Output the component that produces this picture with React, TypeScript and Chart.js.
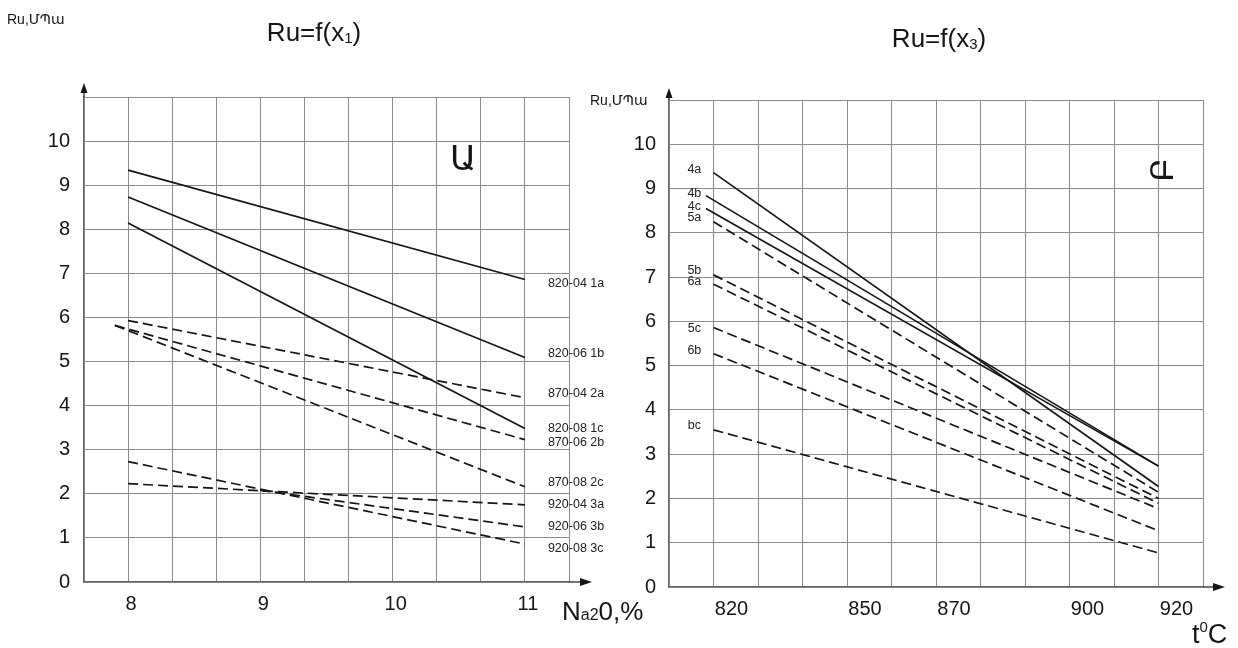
import React, { useEffect, useRef } from 'react';
import { Chart, registerables } from 'chart.js';

Chart.register(...registerables);

// ---------- Left panel: Ru = f(x1), Na2O % ----------
const leftNames = ['1a', '1b', '1c', '2a', '2b', '2c', '3a', '3b', '3c'];
const leftStartX = [8, 8, 8, 8, 7.9, 7.9, 8, 9.0, 8];
const leftStartY = [9.34, 8.73, 8.14, 5.93, 5.82, 5.82, 2.23, 2.08, 2.73];
const leftEndX = 11;
const leftEndY = [6.86, 5.09, 3.48, 4.18, 3.23, 2.16, 1.75, 1.25, 0.86];
const leftXTickLabels = [8, 9, 10, 11];
const leftTags = ['820-04 1a', '820-06 1b', '870-04 2a', '820-08 1c', '870-06 2b', '870-08 2c', '920-04 3a', '920-06 3b', '920-08 3c'];
const leftTagAt = [6.77, 5.18, 4.27, 3.48, 3.16, 2.25, 1.75, 1.25, 0.75];

// ---------- Right panel: Ru = f(x3), t °C ----------
const rightNames = ['4a', '4b', '4c', '5a', '5b', '6a', '5c', '6b', 'bc'];
const rightStartX = [820, 818.3, 818.3, 820, 820, 820, 820, 820, 820];
const rightStartY = [9.36, 8.84, 8.55, 8.25, 7.05, 6.84, 5.86, 5.27, 3.55];
const rightEndX = 920;
const rightEndY = [2.27, 2.73, 2.73, 2.14, 2.0, 1.89, 1.77, 1.27, 0.77];
const rightXTickLabels = [820, 850, 870, 900, 920];
const rightTags = ['4a', '4b', '4c', '5a', '5b', '6a', '5c', '6b', 'bc'];
const rightTagAt = [9.43, 8.89, 8.59, 8.34, 7.14, 6.91, 5.84, 5.34, 3.64];

const yMax = 11;
const yLabelMax = 10;

const FONT = '"Liberation Sans", Arial, "DejaVu Sans", sans-serif';
const ARM = '"DejaVu Sans", "Noto Sans", sans-serif';
const INK = '#151515';
const GRID = '#8c8c8c';

type Part = { t: string; size: number; dy?: number; family?: string };

function drawParts(ctx: CanvasRenderingContext2D, parts: Part[], x: number, y: number, align: 'left' | 'center') {
  ctx.save();
  ctx.textBaseline = 'alphabetic';
  ctx.textAlign = 'left';
  let total = 0;
  const widths = parts.map((p) => {
    ctx.font = `${p.size}px ${p.family || FONT}`;
    const w = ctx.measureText(p.t).width;
    total += w;
    return w;
  });
  let cx = align === 'center' ? x - total / 2 : x;
  parts.forEach((p, i) => {
    ctx.font = `${p.size}px ${p.family || FONT}`;
    ctx.fillText(p.t, cx, y + (p.dy || 0));
    cx += widths[i];
  });
  ctx.restore();
}

function arrowUp(ctx: CanvasRenderingContext2D, x: number, y0: number, tip: number) {
  ctx.beginPath();
  ctx.moveTo(x, y0);
  ctx.lineTo(x, tip + 4);
  ctx.stroke();
  ctx.beginPath();
  ctx.moveTo(x, tip);
  ctx.lineTo(x - 3.5, tip + 10);
  ctx.lineTo(x + 3.5, tip + 10);
  ctx.closePath();
  ctx.fill();
}

function arrowRight(ctx: CanvasRenderingContext2D, x0: number, y: number, tip: number) {
  ctx.beginPath();
  ctx.moveTo(x0, y);
  ctx.lineTo(tip - 4, y);
  ctx.stroke();
  ctx.beginPath();
  ctx.moveTo(tip, y);
  ctx.lineTo(tip - 12, y - 4);
  ctx.lineTo(tip - 12, y + 4);
  ctx.closePath();
  ctx.fill();
}

function buildDatasets(names: string[], sx: number[], sy: number[], ex: number, ey: number[], solidGroups: string[]) {
  return names.map((n, i) => ({
    label: n,
    data: [
      { x: sx[i], y: sy[i] },
      { x: ex, y: ey[i] },
    ],
    borderColor: INK,
    borderWidth: 1.7,
    borderDash: solidGroups.includes(n[0]) ? [] : [10, 5],
    pointRadius: 0,
    fill: false,
    tension: 0,
  }));
}

function makeOptions(cfg: {
  xMin: number; xMax: number; gridX: number[]; labelX: number[]; labelOffset: number;
  yWidth: number; xHeight: number; padRight: number; padTop: number;
  yPad: number; xPad: number;
}) {
  return {
    responsive: false,
    animation: false as const,
    events: [],
    layout: { padding: { left: 0, right: cfg.padRight, top: cfg.padTop, bottom: 0 } },
    plugins: { legend: { display: false }, tooltip: { enabled: false }, title: { display: false } },
    scales: {
      x: {
        type: 'linear' as const,
        min: cfg.xMin,
        max: cfg.xMax,
        afterBuildTicks: (axis: any) => {
          axis.ticks = cfg.gridX.map((v) => ({ value: v }));
        },
        afterFit: (axis: any) => {
          axis.height = cfg.xHeight;
        },
        grid: { color: GRID, lineWidth: 1, drawTicks: false },
        border: { display: true, color: '#666', width: 1.2 },
        ticks: {
          padding: cfg.xPad,
          labelOffset: cfg.labelOffset,
          autoSkip: false,
          maxRotation: 0,
          color: INK,
          font: { family: FONT, size: 20 },
          callback: (v: any) => {
            const hit = cfg.labelX.find((l) => Math.abs(l - v) < 1e-6);
            return hit === undefined ? '' : String(hit);
          },
        },
      },
      y: {
        type: 'linear' as const,
        min: 0,
        max: yMax,
        afterFit: (axis: any) => {
          axis.width = cfg.yWidth;
        },
        grid: { color: GRID, lineWidth: 1, drawTicks: false },
        border: { display: true, color: '#666', width: 1.2 },
        ticks: {
          stepSize: 1,
          padding: cfg.yPad,
          color: INK,
          font: { family: FONT, size: 20 },
          callback: (v: any) => (v <= yLabelMax ? String(v) : ''),
        },
      },
    },
  };
}

const leftDecor = {
  id: 'leftDecor',
  afterDraw(chart: any) {
    const ctx: CanvasRenderingContext2D = chart.ctx;
    const { left, right, top, bottom } = chart.chartArea;
    const xs = chart.scales.x;
    const ys = chart.scales.y;
    ctx.save();
    ctx.strokeStyle = INK;
    ctx.fillStyle = INK;
    ctx.lineWidth = 1.2;
    arrowUp(ctx, left, top, top - 14);
    arrowRight(ctx, right, bottom, right + 23);

    drawParts(ctx, [
      { t: 'Ru=f(x', size: 26 },
      { t: '1', size: 15, dy: 2 },
      { t: ')', size: 26 },
    ], 314, 41, 'center');

    drawParts(ctx, [{ t: 'Ru,ՄՊա', size: 14 }], 7, 24, 'left');

    ctx.fillStyle = '#222';
    ctx.font = `12.5px ${FONT}`;
    ctx.textAlign = 'left';
    ctx.textBaseline = 'middle';
    const tx = xs.getPixelForValue(leftEndX) + 23;
    leftTags.forEach((t, i) => {
      ctx.fillText(t, tx, ys.getPixelForValue(leftTagAt[i]));
    });

    ctx.fillStyle = INK;
    drawParts(ctx, [{ t: 'Ա', size: 34, family: ARM }], 450, 170, 'left');

    drawParts(ctx, [
      { t: 'N', size: 26 },
      { t: 'a2', size: 16 },
      { t: '0,%', size: 26 },
    ], 562, 620, 'left');
    ctx.restore();
  },
};

const rightDecor = {
  id: 'rightDecor',
  afterDraw(chart: any) {
    const ctx: CanvasRenderingContext2D = chart.ctx;
    const { left, right, top, bottom } = chart.chartArea;
    const xs = chart.scales.x;
    const ys = chart.scales.y;
    const ox = 580;
    ctx.save();
    ctx.strokeStyle = INK;
    ctx.fillStyle = INK;
    ctx.lineWidth = 1.2;
    arrowUp(ctx, left, top, top - 12);
    arrowRight(ctx, right, bottom, right + 22);

    drawParts(ctx, [
      { t: 'Ru=f(x', size: 26 },
      { t: '3', size: 15, dy: 2 },
      { t: ')', size: 26 },
    ], 939 - ox, 47, 'center');

    drawParts(ctx, [{ t: 'Ru,ՄՊա', size: 14 }], 590 - ox, 105, 'left');

    ctx.fillStyle = '#222';
    ctx.font = `12.5px ${FONT}`;
    ctx.textAlign = 'center';
    ctx.textBaseline = 'middle';
    const tx = xs.getPixelForValue(815.7);
    rightTags.forEach((t, i) => {
      ctx.fillText(t, tx, ys.getPixelForValue(rightTagAt[i]));
    });

    ctx.fillStyle = INK;
    ctx.save();
    ctx.translate(1165 - ox, 170);
    ctx.rotate(-Math.PI / 2);
    ctx.font = `32px ${ARM}`;
    ctx.textAlign = 'center';
    ctx.textBaseline = 'middle';
    ctx.fillText('Բ', 0, 0);
    ctx.restore();

    drawParts(ctx, [
      { t: 't', size: 27 },
      { t: '0', size: 15, dy: -11 },
      { t: 'C', size: 27 },
    ], 1192 - ox, 643, 'left');
    ctx.restore();
  },
};

export default function App() {
  const leftRef = useRef<HTMLCanvasElement | null>(null);
  const rightRef = useRef<HTMLCanvasElement | null>(null);

  useEffect(() => {
    const leftGrid = Array.from({ length: 12 }, (_, i) => 23 / 3 + i / 3);
    const rightGrid = Array.from({ length: 13 }, (_, i) => 810 + i * 10);

    const lc = new Chart(leftRef.current as HTMLCanvasElement, {
      type: 'line',
      data: { datasets: buildDatasets(leftNames, leftStartX, leftStartY, leftEndX, leftEndY, ['1']) as any },
      options: makeOptions({
        xMin: 23 / 3, xMax: 34 / 3, gridX: leftGrid, labelX: leftXTickLabels, labelOffset: 3,
        yWidth: 84, xHeight: 66, padRight: 660 - 569, padTop: 97, yPad: 14, xPad: 10,
      }) as any,
      plugins: [leftDecor],
    });

    const rc = new Chart(rightRef.current as HTMLCanvasElement, {
      type: 'line',
      data: { datasets: buildDatasets(rightNames, rightStartX, rightStartY, rightEndX, rightEndY, ['4']) as any },
      options: makeOptions({
        xMin: 810, xMax: 930, gridX: rightGrid, labelX: rightXTickLabels, labelOffset: 18,
        yWidth: 89, xHeight: 61, padRight: 658 - 623, padTop: 100, yPad: 13, xPad: 10,
      }) as any,
      plugins: [rightDecor],
    });

    return () => {
      lc.destroy();
      rc.destroy();
    };
  }, []);

  return (
    <div style={{ position: 'absolute', left: 0, top: 0, width: 1238, height: 648, background: '#fff', overflow: 'hidden' }}>
      <canvas ref={leftRef} width={660} height={648} style={{ position: 'absolute', left: 0, top: 0 }} />
      <canvas ref={rightRef} width={658} height={648} style={{ position: 'absolute', left: 580, top: 0 }} />
    </div>
  );
}
